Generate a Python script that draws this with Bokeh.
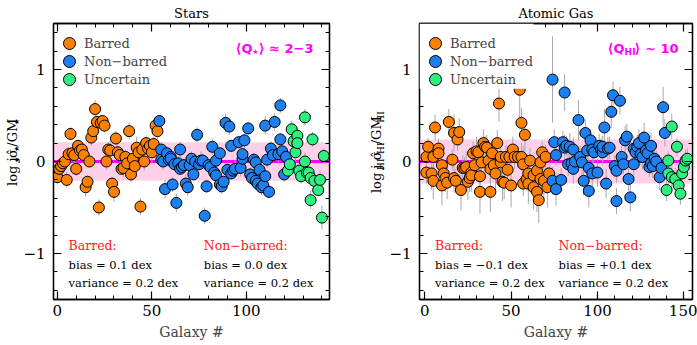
import math
from bokeh.plotting import figure
from bokeh.models import (ColumnDataSource, Range1d, LinearAxis, SingleIntervalTicker,
                          Span, BoxAnnotation, Label, Legend, LegendItem)
from bokeh.layouts import row
from bokeh.embed import file_html
from bokeh.resources import INLINE

# ---------------- data: Stars ----------------
stars_bar_x = list(range(0, 54))
stars_bar_y = [-0.17, -0.08, -0.05, -0.02, 0.00, -0.20, 0.08, 0.30, 0.09, 0.07,
               -0.08, 0.17, 0.12, 0.13, 0.07, -0.28, -0.22, 0.00, 0.26, 0.33,
               0.57, 0.43, -0.50, 0.42, 0.44, 0.39, 0.00, 0.13, 0.12, -0.24,
               -0.33, 0.25, 0.10, 0.07, -0.08, -0.07, 0.05, -0.02, 0.33, -0.14,
               0.03, -0.05, 0.15, 0.10, -0.49, 0.13, 0.00, 0.20, 0.14, 0.17,
               0.10, 0.19, 0.39, 0.33]
stars_bar_err = [0.08, 0.06, 0.10, 0.07, 0.05, 0.09, 0.08, 0.07, 0.06, 0.10,
                 0.08, 0.07, 0.09, 0.06, 0.08, 0.10, 0.07, 0.06, 0.09, 0.08,
                 0.10, 0.07, 0.09, 0.08, 0.06, 0.07, 0.09, 0.08, 0.10, 0.07,
                 0.11, 0.08, 0.09, 0.07, 0.06, 0.10, 0.08, 0.07, 0.09, 0.08,
                 0.06, 0.10, 0.12, 0.08, 0.09, 0.07, 0.10, 0.08, 0.11, 0.09,
                 0.12, 0.08, 0.10, 0.09]

stars_non_x = [54, 55, 55, 56, 57, 58, 59, 60, 60, 61,
               62, 63, 64, 65, 65, 66, 67, 68, 69, 70,
               71, 72, 73, 74, 75, 76, 77, 78, 79, 80,
               81, 82, 83, 84, 84, 86, 86, 87, 88, 89,
               90, 91, 92, 92, 93, 94, 96, 97, 98, 98,
               99, 101, 102, 103, 104, 105, 105, 106, 107, 108,
               109, 110, 110, 111, 112, 113, 114, 115, 117, 118,
               118, 119, 120, 121]
stars_non_y = [0.44, 0.13, 0.02, 0.00, -0.30, 0.09, 0.02, 0.05, 0.03, -0.25,
               -0.03, -0.45, -0.02, 0.13, -0.08, -0.06, -0.04, -0.24, -0.28, -0.04,
               0.03, -0.14, 0.00, 0.29, -0.03, 0.01, 0.01, -0.59, -0.27, -0.04,
               -0.06, 0.16, -0.12, 0.01, -0.15, 0.09, -0.25, -0.27, -0.22, 0.42,
               -0.09, 0.38, 0.17, -0.13, -0.10, -0.08, 0.21, -0.07, 0.03, 0.08,
               0.23, 0.36, -0.14, -0.18, 0.02, -0.01, -0.21, -0.24, -0.09, -0.28,
               -0.26, 0.39, -0.16, 0.02, -0.33, 0.14, 0.07, 0.43, 0.08, 0.61,
               0.24, 0.11, -0.14, 0.05]
stars_non_err = [0.07, 0.08, 0.06, 0.09, 0.10, 0.07, 0.08, 0.06, 0.09, 0.08,
                 0.07, 0.10, 0.08, 0.09, 0.06, 0.07, 0.08, 0.10, 0.09, 0.07,
                 0.08, 0.06, 0.09, 0.08, 0.07, 0.10, 0.08, 0.09, 0.07, 0.06,
                 0.08, 0.09, 0.07, 0.10, 0.08, 0.06, 0.09, 0.08, 0.07, 0.10,
                 0.08, 0.09, 0.07, 0.06, 0.08, 0.10, 0.07, 0.09, 0.08, 0.06,
                 0.10, 0.07, 0.08, 0.09, 0.07, 0.08, 0.10, 0.06, 0.09, 0.08,
                 0.07, 0.10, 0.08, 0.09, 0.07, 0.08, 0.06, 0.10, 0.09, 0.08,
                 0.07, 0.09, 0.08, 0.10]

stars_unc_x = [122, 123, 124, 125, 126, 127, 127, 128, 129, 131,
               131, 132, 133, 134, 134, 135, 136, 138, 139, 140, 141]
stars_unc_y = [-0.10, -0.03, 0.35, 0.22, 0.10, 0.28, 0.20, -0.10, -0.16, 0.00,
               0.48, -0.12, -0.12, -0.18, -0.42, 0.24, -0.21, -0.31, -0.20, -0.61, 0.06]
stars_unc_err = [0.10, 0.08, 0.09, 0.07, 0.10, 0.08, 0.09, 0.07, 0.08, 0.10,
                 0.09, 0.08, 0.07, 0.09, 0.10, 0.08, 0.09, 0.07, 0.10, 0.13, 0.08]

# ---------------- data: Atomic gas ----------------
hi_bar_x = [1, 1, 2, 4, 5, 5, 6, 8, 8, 10,
            10, 11, 12, 13, 14, 16, 17, 17, 18, 19,
            20, 21, 22, 23, 24, 25, 26, 27, 27, 28,
            29, 30, 31, 32, 32, 33, 34, 35, 36, 37,
            38, 38, 39, 40, 41, 42, 43, 44, 44, 45,
            46, 47, 48, 49, 50, 51, 52, 54, 55, 56,
            56, 57, 57, 58, 59, 60, 60, 61, 63, 63,
            65, 65, 66, 67, 67, 68, 69, 70, 71, 72]
hi_bar_y = [-0.12, 0.05, 0.16, -0.13, -0.21, 0.05, 0.37, 0.14, 0.09, -0.04,
            -0.26, -0.13, -0.18, -0.23, 0.43, 0.02, -0.18, 0.31, -0.21, 0.24,
            0.32, -0.31, -0.07, -0.07, -0.06, -0.22, -0.18, -0.12, -0.15, 0.09,
            -0.04, 0.11, 0.10, -0.16, -0.33, -0.01, 0.20, 0.16, 0.15, 0.01,
            -0.33, -0.08, 0.09, -0.04, -0.13, 0.20, 0.63, -0.01, 0.05, -0.22,
            -0.23, 0.05, -0.09, 0.05, -0.26, 0.13, 0.05, 0.05, 0.78, 0.42,
            0.05, -0.03, -0.24, 0.29, -0.19, -0.13, -0.24, 0.01, -0.28, -0.15,
            -0.10, -0.33, -0.42, -0.01, -0.19, 0.10, -0.21, 0.05, -0.28, -0.13]
hi_bar_err = [0.12, 0.15, 0.10, 0.18, 0.20, 0.12, 0.14, 0.10, 0.16, 0.13,
              0.22, 0.12, 0.15, 0.18, 0.14, 0.11, 0.16, 0.20, 0.13, 0.12,
              0.15, 0.22, 0.14, 0.12, 0.17, 0.20, 0.15, 0.13, 0.18, 0.12,
              0.14, 0.16, 0.12, 0.19, 0.24, 0.13, 0.15, 0.12, 0.14, 0.11,
              0.22, 0.16, 0.13, 0.15, 0.18, 0.14, 0.20, 0.12, 0.16, 0.21,
              0.18, 0.13, 0.15, 0.12, 0.24, 0.14, 0.13, 0.12, 0.30, 0.16,
              0.15, 0.20, 0.14, 0.18, 0.12, 0.20, 0.22, 0.14, 0.24, 0.16,
              0.13, 0.22, 0.25, 0.14, 0.18, 0.12, 0.20, 0.13, 0.22, 0.15]

hi_non_x = [74, 74, 76, 75, 76, 79, 80, 81, 81, 82,
            83, 84, 85, 86, 86, 87, 89, 90, 91, 92,
            93, 94, 95, 95, 96, 97, 97, 98, 100, 101,
            102, 103, 104, 103, 105, 106, 107, 108, 109, 110,
            111, 111, 113, 114, 115, 116, 117, 118, 119, 121,
            121, 122, 123, 124, 125, 126, 127, 128, 129, 130,
            131, 131, 132, 133, 134, 136, 137, 138, 139]
hi_non_y = [0.89, -0.21, 0.07, 0.21, -0.30, -0.20, 0.21, 0.75, 0.15, 0.17,
            -0.03, 0.16, -0.02, -0.08, 0.13, 0.00, 0.45, 0.05, -0.01, -0.21,
            0.31, 0.12, -0.07, -0.32, 0.23, -0.13, 0.13, 0.10, -0.12, 0.17,
            0.13, 0.10, 0.37, 0.16, -0.24, 0.14, 0.15, 0.54, 0.72, -0.05,
            -0.43, -0.10, 0.66, 0.05, -0.03, 0.23, 0.27, -0.19, -0.39, -0.03,
            0.14, 0.10, 0.16, 0.20, 0.08, 0.05, 0.26, 0.12, 0.09, -0.06,
            0.17, -0.02, -0.05, 0.03, 0.00, -0.17, -0.07, 0.59, 0.31]
hi_non_err = [0.47, 0.15, 0.12, 0.14, 0.18, 0.13, 0.12, 0.20, 0.14, 0.11,
              0.13, 0.15, 0.12, 0.16, 0.13, 0.11, 0.22, 0.12, 0.14, 0.16,
              0.15, 0.12, 0.13, 0.18, 0.12, 0.14, 0.12, 0.11, 0.15, 0.13,
              0.12, 0.14, 0.20, 0.12, 0.16, 0.13, 0.12, 0.18, 0.15, 0.12,
              0.14, 0.13, 0.15, 0.12, 0.11, 0.16, 0.14, 0.13, 0.15, 0.12,
              0.14, 0.11, 0.13, 0.15, 0.12, 0.14, 0.16, 0.12, 0.13, 0.11,
              0.14, 0.12, 0.13, 0.11, 0.12, 0.14, 0.12, 0.22, 0.15]

hi_unc_x = [140, 141, 141, 143, 143, 145, 146, 147, 148, 149, 150, 151, 152]
hi_unc_y = [-0.31, 0.01, -0.13, 0.38, -0.17, -0.19, 0.16, -0.26, -0.35, -0.13, -0.06, 0.01, 0.03]
hi_unc_err = [0.12, 0.10, 0.13, 0.14, 0.11, 0.12, 0.10, 0.13, 0.12, 0.11, 0.10, 0.12, 0.11]

# scatter-band half widths (dex) and stats text
stars_band = 0.21
hi_band = 0.24
stars_stats = ["bias = 0.1 dex", "variance = 0.2 dex", "bias = 0.0 dex", "variance = 0.2 dex"]
hi_stats = ["bias = \u22120.1 dex", "variance = 0.2 dex", "bias = +0.1 dex", "variance = 0.2 dex"]
y_tick_labels = {-1: "\u22121", 0: "0", 1: "1"}

# ---------------- style ----------------
SERIF = "DejaVu Serif"
SANS = "DejaVu Sans"
C_BAR = "#ff8000"
C_NON = "#1e80f0"
C_UNC = "#2ef080"
C_ERR = "#a8a8a8"
C_BAND = "#ffd0ea"
C_MAG = "#ff00ff"
C_RED = "#ff2020"
H = 345
STAR = "\u2605"


def style_axis(ax, ticker, labels, standoff=0, font_size="15px"):
    ax.ticker = ticker
    ax.major_tick_in = 8
    ax.major_tick_out = 0
    ax.minor_tick_in = 4
    ax.minor_tick_out = 0
    ax.axis_line_color = "black"
    ax.axis_line_width = 1.3
    ax.major_tick_line_color = "black"
    ax.major_tick_line_width = 1.2
    ax.minor_tick_line_color = "black"
    ax.minor_tick_line_width = 1.0
    if labels:
        ax.major_label_text_font = SERIF
        ax.major_label_text_font_size = font_size
        ax.major_label_text_color = "black"
        ax.major_label_standoff = standoff
    else:
        ax.major_label_text_font_size = "0px"
        ax.major_label_text_color = None
        ax.major_label_standoff = 0


def label_fig(width, pieces, cx, start_y):
    """Narrow strip holding the rotated y-axis label (with subscripts)."""
    f = figure(width=width, height=H, x_range=Range1d(0, width), y_range=Range1d(0, H),
               output_backend="svg", toolbar_location=None, min_border=0,
               x_axis_type=None, y_axis_type=None)
    f.outline_line_color = None
    f.grid.visible = False
    f.background_fill_color = "white"
    f.border_fill_color = "white"
    yy = start_y
    for text, fs, sub, w in pieces:
        f.add_layout(Label(x=cx + (4 if sub else 0), y=yy, text=text, angle=math.pi / 2,
                           text_align="left", text_baseline="middle", text_font=SERIF,
                           text_font_size=f"{fs}px", text_color="black"))
        yy += w
    return f


def make_panel(title, xr, band, series, stats, q_pieces, q_right, width, left, right,
               legend_box=None):
    p = figure(width=width, height=H, x_range=Range1d(*xr), y_range=Range1d(-1.5, 1.5),
               output_backend="svg", toolbar_location=None,
               min_border_left=left, min_border_right=right,
               min_border_top=23, min_border_bottom=46)
    p.xgrid.visible = False
    p.ygrid.visible = False
    p.outline_line_color = "black"
    p.outline_line_width = 1.3
    p.background_fill_color = "white"
    p.border_fill_color = "white"

    p.title.text = title
    p.title.align = "center"
    p.title.text_font = SERIF
    p.title.text_font_size = "13px"
    p.title.text_font_style = "normal"
    p.title.text_color = "black"
    p.title.standoff = 5

    style_axis(p.xaxis[0], SingleIntervalTicker(interval=50, num_minor_ticks=5), True, 5)
    style_axis(p.yaxis[0], SingleIntervalTicker(interval=1, num_minor_ticks=5), True, 8)
    p.yaxis[0].major_label_overrides = y_tick_labels
    p.xaxis[0].axis_label = "Galaxy #"
    p.xaxis[0].axis_label_text_font = SERIF
    p.xaxis[0].axis_label_text_font_style = "normal"
    p.xaxis[0].axis_label_text_font_size = "14px"
    p.xaxis[0].axis_label_standoff = 5
    top = LinearAxis()
    style_axis(top, SingleIntervalTicker(interval=50, num_minor_ticks=5), False)
    rgt = LinearAxis()
    style_axis(rgt, SingleIntervalTicker(interval=1, num_minor_ticks=5), False)
    p.add_layout(top, "above")
    p.add_layout(rgt, "right")

    p.add_layout(BoxAnnotation(bottom=-band, top=band, fill_color=C_BAND, fill_alpha=1.0,
                               line_color=None, level="underlay"))
    p.add_layout(Span(location=0, dimension="width", line_color=C_MAG, line_width=3,
                      level="underlay"))

    sources = []
    for xs, ys, es, col, name in series:
        n = min(len(xs), len(ys), len(es))
        src = ColumnDataSource(dict(x=xs[:n], y=ys[:n],
                                    lo=[ys[i] - es[i] for i in range(n)],
                                    hi=[ys[i] + es[i] for i in range(n)]))
        sources.append((src, col, name))
    for src, col, name in sources:
        p.segment(x0="x", y0="lo", x1="x", y1="hi", source=src, line_color=C_ERR, line_width=1)
    rends = []
    for src, col, name in sources:
        r = p.scatter("x", "y", source=src, size=11, marker="circle", fill_color=col,
                      line_color="black", line_width=1)
        rends.append((r, name))

    if legend_box is not None:
        p.add_layout(BoxAnnotation(left=xr[0], right=legend_box[0], bottom=legend_box[1], top=1.5,
                                   fill_color="white", fill_alpha=1.0, line_color=None))

    # legend: one Legend per entry (rows 18 px apart)
    for i, (r, name) in enumerate(rends):
        leg = Legend(items=[LegendItem(label=name, renderers=[r])],
                     location=(1, 241 - 18 * i), glyph_width=30, glyph_height=30,
                     label_standoff=0, padding=0, margin=0, spacing=0,
                     border_line_color=None, background_fill_alpha=0,
                     label_text_font=SERIF, label_text_font_size="13px")
        p.add_layout(leg)

    # stats text
    cols = [(6, "Barred:"), (77.5, "Non\u2212barred:")]
    for j, (cx, head) in enumerate(cols):
        p.add_layout(Label(x=cx, y=-0.91, text=head, text_baseline="middle",
                           text_font=SERIF, text_font_size="12.5px", text_color=C_RED))
        p.add_layout(Label(x=cx, y=-1.12, text=stats[2 * j], text_baseline="middle",
                           text_font=SERIF, text_font_size="11.5px", text_color="black"))
        p.add_layout(Label(x=cx, y=-1.32, text=stats[2 * j + 1], text_baseline="middle",
                           text_font=SERIF, text_font_size="11.5px", text_color="black"))

    # <Q> label, pieces placed right to left
    off = -q_right
    for text, fs, sub, w in reversed(q_pieces):
        p.add_layout(Label(x=xr[1], y=1.5, x_offset=off, y_offset=-25 - (3 if sub else 0),
                           text=text, text_align="right", text_baseline="alphabetic",
                           text_font=SANS, text_font_style="bold",
                           text_font_size=f"{fs}px", text_color=C_MAG))
        off -= w
    return p


lf1 = label_fig(20, [("log j", 13, False, 29), (STAR, 7, True, 6), ("\u03c3\u0302", 13, False, 8),
                     (STAR, 7, True, 6), ("/GM", 13, False, 27), (STAR, 7, True, 6)],
                12, 142)
p1 = make_panel(
    "Stars", (-2, 144), stars_band,
    [(stars_bar_x, stars_bar_y, stars_bar_err, C_BAR, "Barred"),
     (stars_non_x, stars_non_y, stars_non_err, C_NON, "Non\u2212barred"),
     (stars_unc_x, stars_unc_y, stars_unc_err, C_UNC, "Uncertain")],
    stars_stats,
    [("\u27e8Q", 13, False, 17), (STAR, 7, True, 6), ("\u27e9 \u2248 2\u22123", 13, False, 55)], 16,
    333, 33, 24)

lf2 = label_fig(33, [("log j", 13, False, 29), ("HI", 9, True, 12), ("\u03c3\u0302", 13, False, 8),
                     ("HI", 9, True, 12), ("/GM", 13, False, 27), ("HI", 9, True, 12)],
                23, 133)
p2 = make_panel(
    "Atomic Gas", (-3, 155), hi_band,
    [(hi_bar_x, hi_bar_y, hi_bar_err, C_BAR, "Barred"),
     (hi_non_x, hi_non_y, hi_non_err, C_NON, "Non\u2212barred"),
     (hi_unc_x, hi_unc_y, hi_unc_err, C_UNC, "Uncertain")],
    hi_stats,
    [("\u27e8Q", 13, False, 17), ("HI", 9, True, 11), ("\u27e9 ~ 10", 13, False, 43)], 14,
    311, 30, 5, legend_box=(63, 0.79))

layout = row(lf1, p1, lf2, p2)
open("out.html", "w").write(file_html(layout, INLINE))
